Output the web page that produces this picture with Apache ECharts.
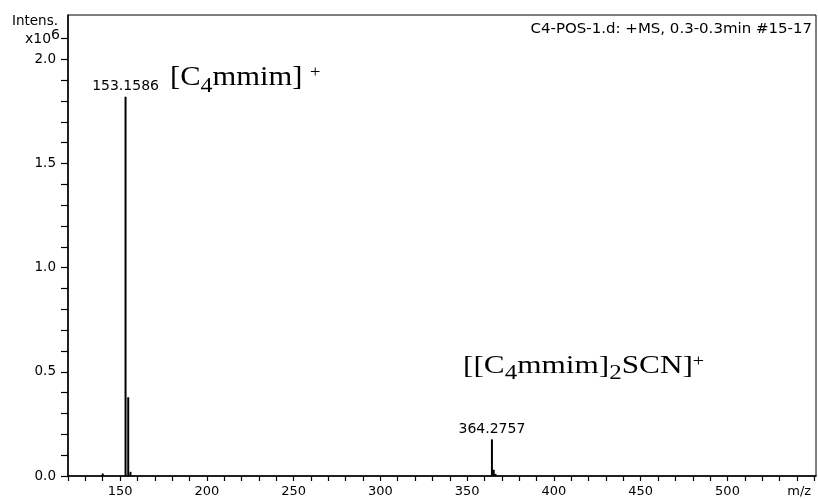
<!DOCTYPE html>
<html>
<head>
<meta charset="utf-8">
<script src="https://cdn.jsdelivr.net/npm/echarts@6/dist/echarts.min.js"></script>
<style>
  html, body { margin: 0; padding: 0; background: #fff; }
  #main { width: 818px; height: 499px; }
</style>
</head>
<body>
<div id="main"></div>
<script>
// m/z of each stick and its intensity (x10^6)
const mz = [140.0, 153.1586, 154.7, 156.0, 364.2757, 365.3, 366.3];
const intensity = [0.012, 1.82, 0.378, 0.02, 0.176, 0.03, 0.01];
const labelledPeaks = [153.1586, 364.2757];

// tick labels
const xLabelValues = [150, 200, 250, 300, 350, 400, 450, 500, 550];
const yLabelValues = [0.0, 0.5, 1.0, 1.5, 2.0];

const xTickValues = [];
for (let v = 120; v <= 550; v += 10) xTickValues.push(v);
const yTickValues = [];
for (let i = 0; i <= 21; i++) yTickValues.push(+(i / 10).toFixed(1));

const FONT = 'DejaVu Sans';
const SERIF = 'Liberation Serif';

const chart = echarts.init(document.getElementById('main'), null, { renderer: 'canvas' });

const sticks = mz.map((x, i) => ({
  value: [x, intensity[i]],
  label: { show: labelledPeaks.indexOf(x) >= 0 }
}));

// rich text styles for the chemical formulas (sub/superscripts via top padding)
function formulaRich(size) {
  return {
    m: { fontFamily: SERIF, fontSize: size, verticalAlign: 'top', padding: [0, 0, 0, 0] },
    b: { fontFamily: SERIF, fontSize: Math.round(size * 0.78), verticalAlign: 'top', padding: [Math.round(size * 0.4), 0, 0, 0] },
    p: { fontFamily: SERIF, fontSize: Math.round(size * 0.62), verticalAlign: 'top', padding: [0, 0, 0, 0] }
  };
}

const option = {
  animation: false,
  backgroundColor: '#fff',
  grid: {
    left: 68, right: 2, top: 15, bottom: 23,
    show: true, borderColor: '#000', borderWidth: 1,
    outerBoundsMode: 'none'
  },
  xAxis: {
    type: 'value',
    min: 120,
    max: 551,
    axisLine: { show: true, onZero: false, lineStyle: { color: '#000', width: 1.5 } },
    axisTick: { show: true, length: 5, customValues: xTickValues, lineStyle: { color: '#000', width: 1.2 } },
    axisLabel: {
      customValues: xLabelValues,
      margin: 9,
      color: '#000',
      fontFamily: FONT,
      fontSize: 13,
      formatter: v => (v === 550 ? '{u|m/z}' : String(v)),
      rich: { u: { fontFamily: FONT, fontSize: 13, color: '#000', padding: [0, 30, 0, 0] } }
    },
    splitLine: { show: false }
  },
  yAxis: {
    type: 'value',
    min: 0,
    max: 2.2126,
    axisLine: { show: true, lineStyle: { color: '#000', width: 1.5 } },
    axisTick: { show: true, length: 7, customValues: yTickValues, lineStyle: { color: '#000', width: 1.2 } },
    axisLabel: {
      customValues: yLabelValues,
      margin: 12,
      color: '#000',
      fontFamily: FONT,
      fontSize: 13.5,
      formatter: v => v.toFixed(1)
    },
    splitLine: { show: false }
  },
  series: [{
    type: 'bar',
    data: sticks,
    barWidth: 2,
    itemStyle: { color: '#000' },
    label: {
      position: 'top',
      distance: 3,
      color: '#000',
      fontFamily: FONT,
      fontSize: 14,
      formatter: p => p.value[0].toFixed(4)
    }
  }],
  graphic: [
    {
      type: 'text', x: 58, y: 14,
      style: { text: 'Intens.', font: '13.5px "DejaVu Sans"', fill: '#000', align: 'right', verticalAlign: 'top' }
    },
    {
      type: 'text', x: 60, y: 28,
      style: {
        text: '{a|x10}{s|6}',
        fill: '#000',
        align: 'right',
        verticalAlign: 'top',
        rich: {
          a: { fontFamily: FONT, fontSize: 14, verticalAlign: 'top', padding: [4, 0, 0, 0] },
          s: { fontFamily: FONT, fontSize: 14, verticalAlign: 'top' }
        }
      }
    },
    {
      type: 'text', x: 812, y: 22, scaleX: 1.07,
      style: { text: 'C4-POS-1.d: +MS, 0.3-0.3min #15-17', font: '14px "DejaVu Sans"', fill: '#000', align: 'right', verticalAlign: 'top' }
    },
    {
      type: 'text', x: 170, y: 64, scaleX: 1.09,
      style: {
        text: '{m|[C}{b|4}{m|mmim] }{p|+}',
        fill: '#000',
        verticalAlign: 'top',
        rich: formulaRich(28)
      }
    },
    {
      type: 'text', x: 463, y: 354, scaleX: 1.25,
      style: {
        text: '{m|[[C}{b|4}{m|mmim]}{b|2}{m|SCN]}{p|+}',
        fill: '#000',
        verticalAlign: 'top',
        rich: formulaRich(25)
      }
    }
  ]
};

chart.setOption(option);
</script>
</body>
</html>
